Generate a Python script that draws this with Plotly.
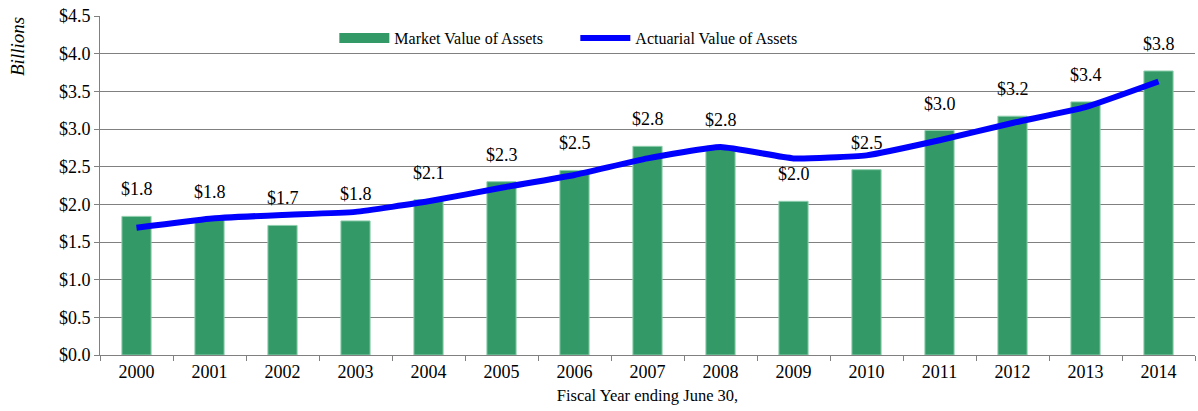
import plotly.graph_objects as go

years = ["2000", "2001", "2002", "2003", "2004", "2005", "2006", "2007",
         "2008", "2009", "2010", "2011", "2012", "2013", "2014"]
market_value = [1.84, 1.81, 1.72, 1.78, 2.06, 2.30, 2.45, 2.77,
                2.76, 2.04, 2.46, 2.98, 3.17, 3.36, 3.77]
actuarial_value = [1.69, 1.81, 1.86, 1.90, 2.04, 2.22, 2.39, 2.61,
                   2.76, 2.61, 2.65, 2.85, 3.08, 3.29, 3.63]
y_ticks = [0.0, 0.5, 1.0, 1.5, 2.0, 2.5, 3.0, 3.5, 4.0, 4.5]

FONT = "Liberation Serif"
BAR_COLOR = "#339966"
W, H = 1198, 411
ML, MR, MT, MB = 100, 3, 16, 56
PW, PH = W - ML - MR, H - MT - MB

fig = go.Figure()
fig.add_trace(go.Bar(
    x=years, y=market_value, name="Market Value of Assets",
    marker=dict(color=BAR_COLOR, line=dict(color="#8fcfae", width=1)),
    width=0.4, showlegend=False,
))
# legend swatch for bars (wide rectangle like the original)
fig.add_trace(go.Scatter(
    x=[None], y=[None], name="Market Value of Assets", mode="lines",
    line=dict(color=BAR_COLOR, width=10), hoverinfo="skip",
))
fig.add_trace(go.Scatter(
    x=years, y=actuarial_value, name="Actuarial Value of Assets",
    mode="lines", line=dict(color="#0000ff", width=6, shape="spline", smoothing=0.4),
))

for i, v in enumerate(market_value):
    fig.add_annotation(x=i, y=v, xref="x", yref="y", text=f"${v:.1f}", showarrow=False,
                       yshift=27, font=dict(family=FONT, size=18, color="#000"))

fig.add_annotation(x=(18 - ML) / PW, y=(MT + PH - 47) / PH, xref="paper", yref="paper",
                   text="<i>Billions</i>", showarrow=False, textangle=-90,
                   xanchor="center", yanchor="middle",
                   font=dict(family=FONT, size=19, color="#000"))

fig.update_layout(
    width=W, height=H,
    margin=dict(l=ML, r=MR, t=MT, b=MB),
    paper_bgcolor="white", plot_bgcolor="white",
    font=dict(family=FONT, size=16, color="#000"),
    showlegend=True,
    legend=dict(orientation="h", x=0.214, y=0.935, xanchor="left", yanchor="middle",
                font=dict(family=FONT, size=16), bgcolor="rgba(0,0,0,0)",
                itemwidth=50, entrywidth=176, tracegroupgap=0),
    bargap=0.6,
)
fig.update_xaxes(
    type="category", range=[-0.5, 14.5], automargin=False,
    showline=True, linecolor="#808080", linewidth=1,
    ticks="outside", tickson="boundaries", ticklen=5, tickcolor="#808080",
    tickfont=dict(family=FONT, size=18),
    title=dict(text="Fiscal Year ending June 30,", font=dict(family=FONT, size=16.5), standoff=8),
    showgrid=False,
)
fig.update_yaxes(
    range=[0, 4.5], tickvals=y_ticks, ticktext=[f"${t:.1f}" for t in y_ticks],
    automargin=False,
    showgrid=True, gridcolor="#808080", gridwidth=1,
    showline=True, linecolor="#808080", linewidth=1,
    ticks="outside", ticklen=5, tickcolor="#808080",
    tickfont=dict(family=FONT, size=18),
    zeroline=False,
)

fig.write_html("out.html", config={"displayModeBar": False},
               post_script="document.body.style.margin='0';")
